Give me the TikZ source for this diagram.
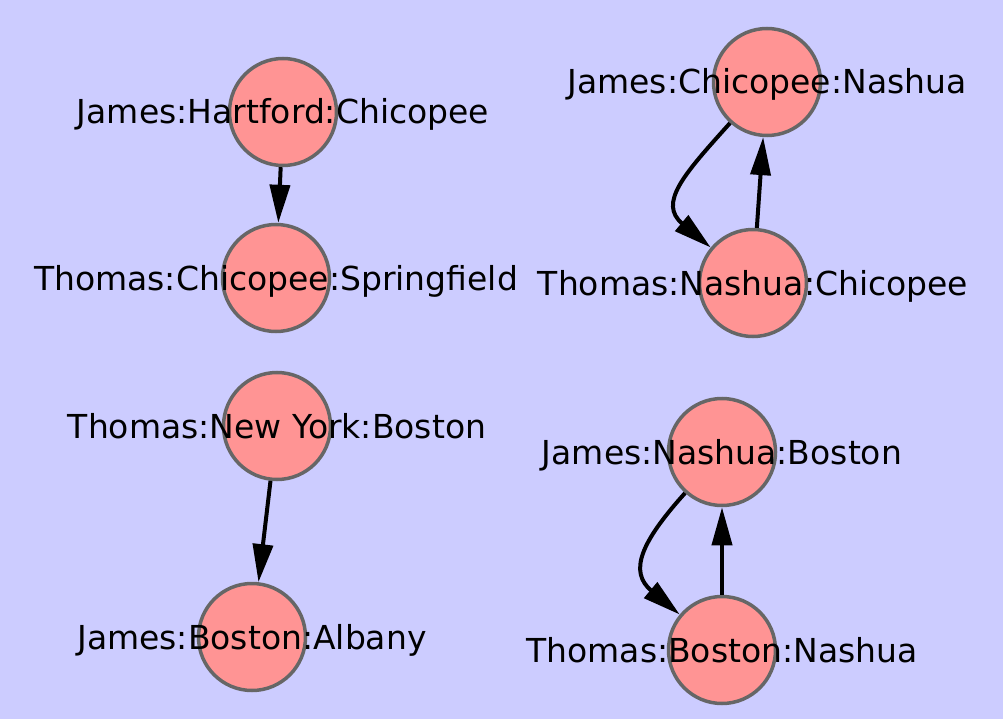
\documentclass[tikz,border=0pt]{standalone}
\usepackage{fontspec}
\setmainfont{DejaVu Sans}
\usetikzlibrary{arrows.meta}
\definecolor{lavender}{HTML}{CCCCFF}
\definecolor{salmon}{HTML}{FF9494}
\definecolor{rim}{HTML}{666666}

\begin{document}
\begin{tikzpicture}[x=1pt,y=-1pt,
		city/.style={circle,draw=rim,fill=salmon,line width=3.5pt,minimum size=107pt,inner sep=0pt},
		lbl/.style={anchor=base,yshift=-12pt,inner sep=0pt,font=\fontsize{33}{36}\selectfont},
		move/.style={-{Triangle[length=38pt,width=20pt]},line width=4pt}]

			%background
			\fill[lavender] (0,0) rectangle (1003,719);
			\useasboundingbox (0,0) rectangle (1003,719);

			%circles for the trips
			\node[city] (hc) at (283,112) {};
			\node[city] (cs) at (276,278) {};
			\node[city] (cn) at (767,82) {};
			\node[city] (nc) at (753,283) {};
			\node[city] (nb) at (277,426) {};
			\node[city] (ba) at (252,637) {};
			\node[city] (nab) at (722,452) {};
			\node[city] (bn) at (722,650) {};

			%naming the trips
			\node[lbl] at (hc) {James:Hartford:Chicopee};
			\node[lbl] at (cs) {Thomas:Chicopee:Springfield};
			\node[lbl] at (cn) {James:Chicopee:Nashua};
			\node[lbl] at (nc) {Thomas:Nashua:Chicopee};
			\node[lbl] at (nb) {Thomas:New York:Boston};
			\node[lbl] at (ba) {James:Boston:Albany};
			\node[lbl] at (nab) {James:Nashua:Boston};
			\node[lbl] at (bn) {Thomas:Boston:Nashua};

			% connections
			\draw[move] (hc) -- (cs);
			\draw[move] (nb) -- (ba);

			\draw[move] (cn) to[out=228,in=140,looseness=1.4] (nc);
			\draw[move] (nc) -- (cn);

			\draw[move] (nab) to[out=228,in=140,looseness=1.4] (bn);
			\draw[move] (bn) -- (nab);

\end{tikzpicture}
\end{document}
